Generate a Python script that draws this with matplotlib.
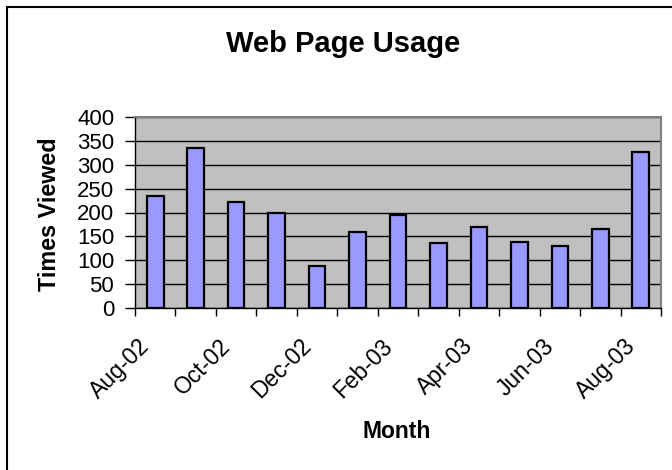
import matplotlib
matplotlib.use("Agg")
import matplotlib.pyplot as plt
import matplotlib.transforms as mtransforms
from matplotlib.patches import Rectangle

months = ["Aug-02", "Sep-02", "Oct-02", "Nov-02", "Dec-02", "Jan-03", "Feb-03",
          "Mar-03", "Apr-03", "May-03", "Jun-03", "Jul-03", "Aug-03"]
views = [234, 336, 222, 200, 87, 160, 195, 136, 170, 138, 130, 165, 327]
yticks = [0, 50, 100, 150, 200, 250, 300, 350, 400]

plt.rcParams['font.family'] = ['Liberation Sans', 'DejaVu Sans']

W, H = 672, 470
fig = plt.figure(figsize=(W / 100, H / 100), dpi=100)
fig.patch.set_facecolor('white')

# outer chart border
fig.patches.append(Rectangle((7 / W, -0.1), 1.2, 1 - 7 / H + 0.1, transform=fig.transFigure,
                             fill=False, edgecolor='black', linewidth=1.5))

left, right, top, bottom = 135, 661, 117, 308
ax = fig.add_axes([left / W, 1 - bottom / H, (right - left) / W, (bottom - top) / H])
ax.set_facecolor('#C0C0C0')

x = list(range(len(months)))
ax.bar(x, views, width=0.41, color='#9999FF', edgecolor='black', linewidth=1.6, zorder=3)

ax.set_xlim(-0.5, len(months) - 0.5)
ax.set_ylim(0, 400)
ax.set_yticks(yticks)
ax.set_yticklabels([str(v) for v in yticks], fontsize=16)
ax.yaxis.grid(True, color='black', linewidth=1.0, zorder=1)
ax.set_axisbelow(True)

ax.set_xticks([i - 0.5 for i in range(len(months) + 1)])
ax.set_xticklabels([])
ax.set_xticks(x[::2], minor=True)
ax.set_xticklabels(months[::2], minor=True, rotation=45, ha='right', va='center',
                   rotation_mode='anchor', fontsize=16.5)
ax.tick_params(axis='x', which='minor', length=0, pad=25)
ax.tick_params(axis='x', which='major', length=6, width=1, direction='out', color='black')
ax.tick_params(axis='y', length=7, width=1, direction='out', color='black', pad=8)

shift = mtransforms.ScaledTranslation(-9 / 100, 0, fig.dpi_scale_trans)
for lbl in ax.get_xticklabels(minor=True):
    lbl.set_transform(lbl.get_transform() + shift)

for s in ['top', 'right']:
    ax.spines[s].set_color('#808080')
    ax.spines[s].set_linewidth(1.5)
for s in ['left', 'bottom']:
    ax.spines[s].set_color('black')
    ax.spines[s].set_linewidth(1.0)

fig.text(343 / W, 1 - 52 / H, 'Web Page Usage', ha='center', va='baseline',
         fontsize=21, fontweight='bold')
fig.text(50 / W, 1 - 214 / H, 'Times Viewed', ha='center', va='center',
         rotation=90, fontsize=16.8, fontweight='bold')
fig.text(397 / W, 1 - 438 / H, 'Month', ha='center', va='baseline',
         fontsize=16.5, fontweight='bold')

fig.savefig('out.png', dpi=100)
